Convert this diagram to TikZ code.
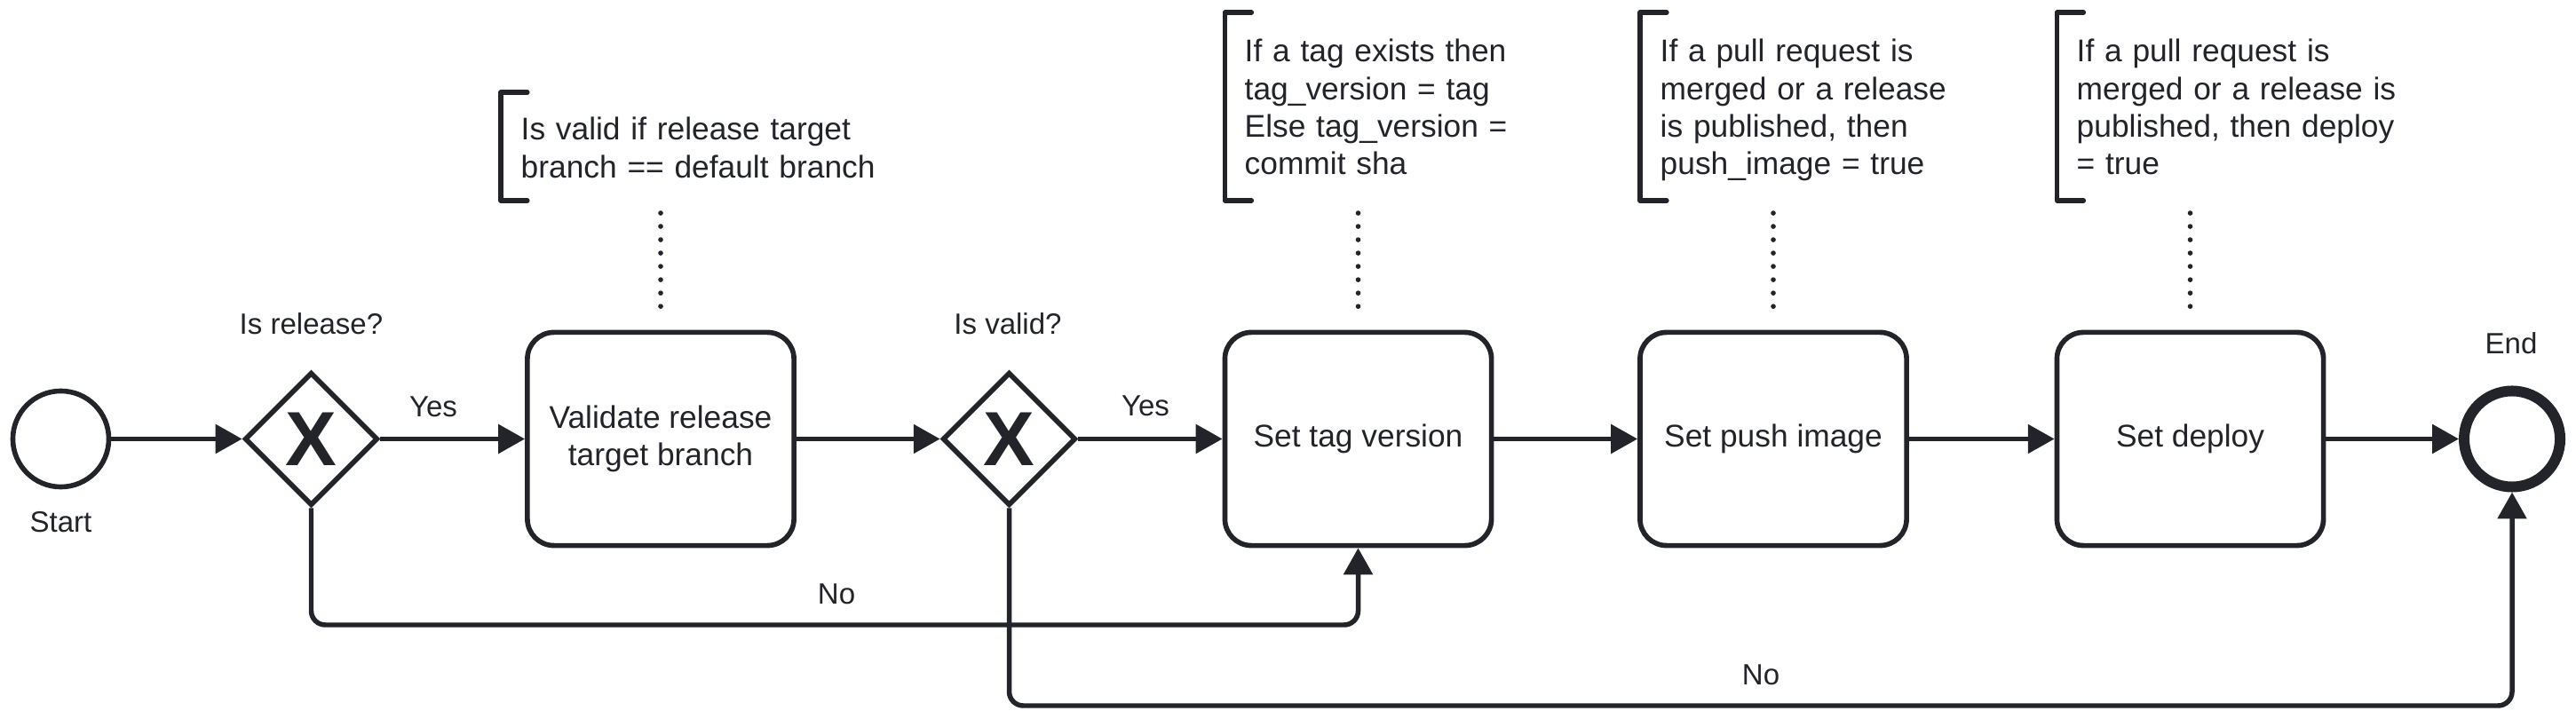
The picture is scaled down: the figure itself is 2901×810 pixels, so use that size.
\documentclass[tikz,border=0pt]{standalone}
\usepackage{fontspec}
\setmainfont{Liberation Sans}
\usetikzlibrary{arrows.meta,shapes.geometric}
\definecolor{ink}{HTML}{22242A}
\newcommand{\taskfont}{\fontsize{10.05pt}{11.95pt}\selectfont}
\newcommand{\lblfont}{\fontsize{9.39pt}{11.27pt}\selectfont}
\newcommand{\gwfont}{\fontsize{24.6pt}{26pt}\selectfont\bfseries}
\begin{document}
\begin{tikzpicture}[x=0.01cm,y=-0.01cm,
  every node/.style={text=ink},
  task/.style={draw=ink, line width=1.6pt, rounded corners=8.5pt, minimum width=3cm, minimum height=2.4cm, align=center, font=\taskfont, inner sep=0pt},
  gw/.style={draw=ink, line width=1.6pt, diamond, minimum width=1.5cm, minimum height=1.5cm, inner sep=0pt},
  startev/.style={draw=ink, line width=1.6pt, circle, minimum size=1.08cm, inner sep=0pt},
  endev/.style={draw=ink, line width=3.41pt, circle, minimum size=1.08cm, inner sep=0pt},
  xmark/.style={font=\gwfont, inner sep=0pt},
  flow/.style={draw=ink, line width=1.56pt, -{Triangle[length=8.5pt,width=9.1pt]}},
  lbl/.style={font=\lblfont, anchor=base, inner sep=0pt},
  annbox/.style={inner sep=0pt, outer sep=0pt, minimum width=3cm},
  bracket/.style={draw=ink, line width=1.5pt, line cap=round, line join=round},
  anntext/.style={font=\taskfont, anchor=base west, align=left, text width=6cm, inner sep=0pt},
  assoc/.style={draw=ink, line width=1.6pt, line cap=round, dash pattern=on 0pt off 4.27pt, shorten <=3.98pt, shorten >=3.98pt}
]
\fill[white] (0,0) rectangle (2901,810);
\useasboundingbox (0,0) rectangle (2901,810);

% main row
\node[startev] (start) at (68.5,494.5) {};
\node[gw] (g1) at (350.5,494.5) {};
\node[xmark] (g1x) at (g1) {X};
\node[task] (t1) at (744,494.5) {Validate release\\target branch};
\node[gw] (g2) at (1136.5,494.5) {};
\node[xmark] (g2x) at (g2) {X};
\node[task] (t2) at (1529.5,494.5) {Set tag version};
\node[task] (t3) at (1997,494.5) {Set push image};
\node[task] (t4) at (2466.5,494.5) {Set deploy};
\node[endev] (end) at (2829,494.5) {};

% labels
\node[lbl] (lstart) at (68.5,600) {Start};
\node[lbl] (lg1) at (350.5,377) {Is release?};
\node[lbl] (ly1) at (488,470) {Yes};
\node[lbl] (lg2) at (1135,377) {Is valid?};
\node[lbl] (ly2) at (1290,469) {Yes};
\node[lbl] (lend) at (2828,399) {End};
\node[lbl] (ln1) at (942,680) {No};
\node[lbl] (ln2) at (1983,771) {No};

% annotations
\node[annbox, minimum height=1.22cm] (a1) at (714,165) {};
\node[annbox, minimum height=2.12cm] (a2) at (1529.5,120) {};
\node[annbox, minimum height=2.12cm] (a3) at (1997,120) {};
\node[annbox, minimum height=2.12cm] (a4) at (2466.5,120) {};
\foreach \a in {a1,a2,a3,a4}{
  \draw[bracket] ([xshift=0.3cm]\a.north west) -- (\a.north west) -- (\a.south west) -- ([xshift=0.3cm]\a.south west);
}
\node[anntext] (a1t) at (586,158) {Is valid if release target\\branch == default branch};
\node[anntext] (a2t) at (1401,70) {If a tag exists then\\tag\_version = tag\\Else tag\_version =\\commit sha};
\node[anntext] (a3t) at (1869,70) {If a pull request is\\merged or a release\\is published, then\\push\_image = true};
\node[anntext] (a4t) at (2338,70) {If a pull request is\\merged or a release is\\published, then deploy\\= true};

\draw[assoc] (t1.north |- a1.south) -- (t1.north);
\draw[assoc] (t2.north |- a2.south) -- (t2.north);
\draw[assoc] (t3.north |- a3.south) -- (t3.north);
\draw[assoc] (t4.north |- a4.south) -- (t4.north);

% flows
\coordinate (no1) at (0,704);
\coordinate (no2) at (0,795);
\draw[flow] (start) -- (g1);
\draw[flow] (g1) -- (t1);
\draw[flow] (t1) -- (g2);
\draw[flow] (g2) -- (t2);
\draw[flow] (t2) -- (t3);
\draw[flow] (t3) -- (t4);
\draw[flow] (t4) -- (end);
\draw[flow, rounded corners=4.5pt] (g1.south) -- (g1.south |- no1) -- (t2.south |- no1) -- (t2.south);
\draw[flow, rounded corners=4.5pt] (g2.south) -- (g2.south |- no2) -- (end.south |- no2) -- (end.south);
\end{tikzpicture}
\end{document}
